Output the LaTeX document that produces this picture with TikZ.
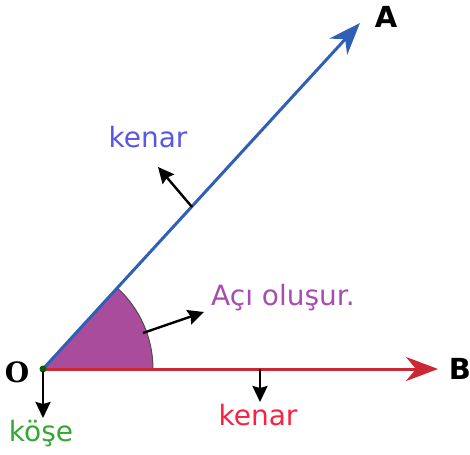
\documentclass[tikz,border=0pt]{standalone}
\usepackage{fontspec}
\setmainfont{DejaVu Sans}
\newfontfamily\oserif{DejaVu Serif}
\usetikzlibrary{arrows.meta}
\definecolor{rayblue}{RGB}{48,96,182}
\definecolor{rayred}{RGB}{204,40,52}
\definecolor{anglefill}{RGB}{170,76,156}
\definecolor{txtblue}{RGB}{88,88,228}
\definecolor{txtred}{RGB}{250,34,64}
\definecolor{txtgreen}{RGB}{52,168,52}
\definecolor{txtpurple}{RGB}{168,76,176}
\begin{document}
\begin{tikzpicture}[x=1pt,y=-1pt,
  lbl/.style={inner sep=0pt,anchor=base,font=\fontsize{28}{32}\selectfont},
  pt/.style={lbl,font=\fontsize{29}{32}\selectfont\bfseries},
  ray/.style={line width=3pt,-{Stealth[length=32pt,width=24pt,inset=10pt]}},
  pointer/.style={line width=2.4pt,-{Stealth[length=16pt,width=15pt,inset=2pt]}}]
\useasboundingbox (0,0) rectangle (470,454);
\coordinate (o) at (43,369);
\coordinate (arcend) at (153,369);
\coordinate (tipA) at (360,23);
\coordinate (tipB) at (438,369);
% angle
\fill[anglefill] (o) -- (arcend) arc[start angle=0,end angle=-47.5,radius=110] -- cycle;
\draw[gray!60!black,line width=1pt] (arcend) arc[start angle=0,end angle=-47.5,radius=110];
% rays
\draw[ray,rayblue] (o) -- (tipA);
\draw[ray,rayred] (o) -- (tipB);
\fill[green!40!black] (o) circle (3.5pt);
% labels
\node[pt] (A) at (386,28) {A};
\node[pt] (B) at (460,379) {B};
\node[inner sep=0pt,anchor=base,font=\oserif\bfseries\fontsize{28}{32}\selectfont] (O) at (17,382) {O};
\node[lbl,txtblue] (kenar1) at (148,148) {kenar};
\node[lbl,txtred] (kenar2) at (258,425) {kenar};
\node[lbl,txtgreen] (kose) at (41,441) {köşe};
\node[lbl,txtpurple,anchor=base west] (aci) at (211,305) {Açı oluşur.};
% pointers
\coordinate (s1) at (192,207); \coordinate (e1) at (158,167);
\coordinate (s2) at (143,333); \coordinate (e2) at (204,312);
\coordinate (s3) at (260,369); \coordinate (e3) at (260,402);
\coordinate (s4) at (43,371);  \coordinate (e4) at (43,418);
\draw[pointer] (s1) -- (e1);
\draw[pointer] (s2) -- (e2);
\draw[pointer] (s3) -- (e3);
\draw[pointer] (s4) -- (e4);
\end{tikzpicture}
\end{document}
